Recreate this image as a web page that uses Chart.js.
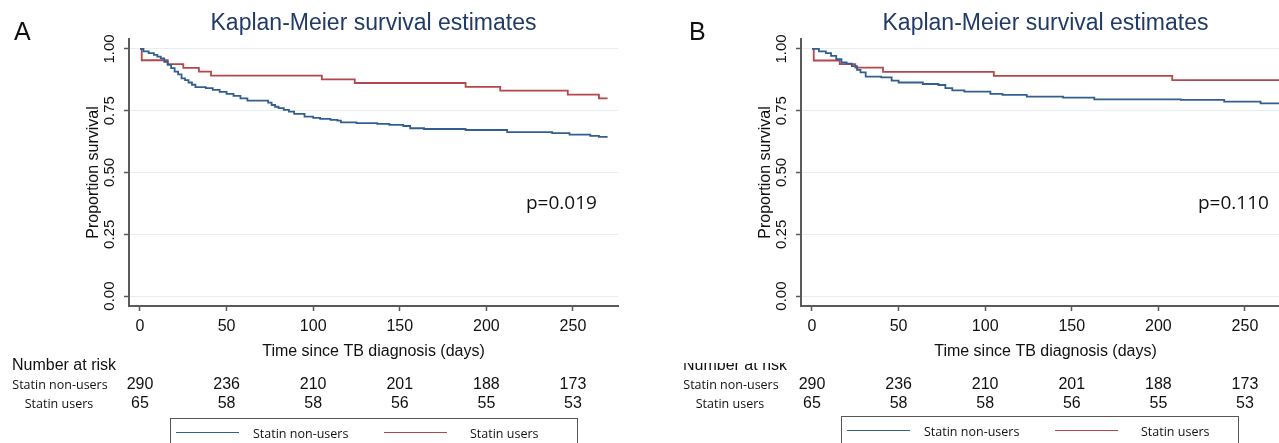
<!DOCTYPE html>
<html>
<head>
<meta charset="utf-8">
<script src="https://cdn.jsdelivr.net/npm/chart.js@4.4.1/dist/chart.umd.min.js"></script>
<style>
  body { margin:0; width:1279px; height:443px; overflow:hidden; background:#fff; position:relative; font-family:"Liberation Sans", Arial, sans-serif; color:#111; }
  .panel { position:absolute; top:0; width:640px; height:443px; }
  .panel canvas { position:absolute; left:0; top:0; }
  .letter { position:absolute; font-size:25px; line-height:1; }
  .pval { position:absolute; font-family:"Open Sans", sans-serif; font-size:19px; transform:translateY(-50%); white-space:nowrap; }
  .risk-title { position:absolute; font-size:16px; transform:translateY(-50%); white-space:nowrap; }
  .clip { position:absolute; overflow:hidden; }
  .risk-label { position:absolute; font-family:"Open Sans", sans-serif; font-size:12.5px; transform:translate(-50%,-50%); white-space:nowrap; }
  .risk-num { position:absolute; font-size:16px; transform:translate(-50%,-50%); white-space:nowrap; }
  .legend { position:absolute; height:40px; border:1px solid #555; background:#fff; box-sizing:border-box; }
  .legend .swatch { position:absolute; top:13px; width:63px; height:0; border-top:1.8px solid; }
  .legend .txt { position:absolute; top:14px; transform:translateY(-50%); font-family:"Open Sans", sans-serif; font-size:12.5px; white-space:nowrap; }
</style>
</head>
<body>
<script>
// Ejes
const xTicks = [0, 50, 100, 150, 200, 250];
const yTicks = [0, 0.25, 0.5, 0.75, 1];
const groupNames = ['Statin non-users', 'Statin users'];

// Panel A
const aNonUsersDays = [0, 2, 5, 8, 10, 12, 14, 16, 18, 20, 22, 24, 26, 28, 30, 32, 38, 42, 46, 50, 54, 58, 62, 74, 76, 78, 80, 83, 86, 89, 95, 100, 104, 110, 114, 116, 125, 137, 144, 152, 156, 164, 188, 212, 238, 248, 260, 265, 270];
const aNonUsersSurv = [1, 0.99, 0.983, 0.976, 0.969, 0.962, 0.948, 0.935, 0.922, 0.908, 0.897, 0.881, 0.874, 0.864, 0.855, 0.845, 0.841, 0.834, 0.826, 0.818, 0.81, 0.80, 0.791, 0.783, 0.773, 0.766, 0.76, 0.753, 0.746, 0.737, 0.726, 0.721, 0.717, 0.713, 0.71, 0.703, 0.70, 0.697, 0.693, 0.688, 0.679, 0.676, 0.672, 0.663, 0.659, 0.653, 0.648, 0.644, 0.644];
const aUsersDays = [0, 1, 16, 25, 34, 41, 105, 124, 188, 208, 247, 265, 270];
const aUsersSurv = [1, 0.954, 0.938, 0.923, 0.908, 0.892, 0.877, 0.862, 0.846, 0.831, 0.815, 0.80, 0.80];
const aRiskNonUsers = [290, 236, 210, 201, 188, 173];
const aRiskUsers = [65, 58, 58, 56, 55, 53];
const aPValue = 'p=0.019';

// Panel B
const bNonUsersDays = [0, 4, 8, 11, 14, 17, 20, 23, 26, 28, 31, 40, 46, 50, 64, 73, 77, 81, 88, 103, 110, 124, 145, 163, 213, 238, 259, 270];
const bNonUsersSurv = [1, 0.99, 0.983, 0.972, 0.958, 0.945, 0.94, 0.93, 0.915, 0.905, 0.888, 0.885, 0.872, 0.864, 0.858, 0.854, 0.841, 0.832, 0.827, 0.818, 0.814, 0.807, 0.803, 0.796, 0.794, 0.787, 0.78, 0.78];
const bUsersDays = [0, 1, 16, 25, 41, 105, 208, 270];
const bUsersSurv = [1, 0.953, 0.938, 0.924, 0.907, 0.891, 0.874, 0.874];
const bRiskNonUsers = [290, 236, 210, 201, 188, 173];
const bRiskUsers = [65, 58, 58, 56, 55, 53];
const bPValue = 'p=0.110';

const blue = '#335f90';
const red = '#b5474c';
const axisColor = '#5a5a5a';

Chart.defaults.font.family = '"Liberation Sans", Arial, sans-serif';
Chart.defaults.color = '#111';

function toPoints(days, surv) {
    return days.map((d, i) => ({ x: d, y: surv[i] }));
}

function addText(parent, cls, text, x, y) {
    const el = document.createElement('div');
    el.className = cls;
    el.textContent = text;
    el.style.left = x + 'px';
    el.style.top = y + 'px';
    parent.appendChild(el);
    return el;
}

function makePanel(p) {
    const panel = document.createElement('div');
    panel.className = 'panel';
    panel.style.left = p.left + 'px';
    document.body.appendChild(panel);

    const canvas = document.createElement('canvas');
    canvas.width = 640;
    canvas.height = 443;
    panel.appendChild(canvas);

    const lineStyle = { stepped: true, pointRadius: 0, borderWidth: 1.8, fill: false };
    const chart = new Chart(canvas, {
        type: 'line',
        data: {
            datasets: [
                { label: groupNames[0], data: toPoints(p.nonDays, p.nonSurv), borderColor: blue, ...lineStyle },
                { label: groupNames[1], data: toPoints(p.userDays, p.userSurv), borderColor: red, ...lineStyle }
            ]
        },
        options: {
            responsive: false,
            animation: false,
            layout: { padding: { left: 80, right: 22, top: 0, bottom: 82 } },
            plugins: {
                legend: { display: false },
                tooltip: { enabled: false },
                title: {
                    display: true,
                    text: 'Kaplan-Meier survival estimates',
                    color: '#223a68',
                    font: { size: 23, weight: 'normal' },
                    padding: { top: 10, bottom: 1.4 },
                    fullSize: false
                }
            },
            scales: {
                x: {
                    type: 'linear',
                    min: -6.35,
                    max: 276,
                    afterBuildTicks: s => { s.ticks = xTicks.map(v => ({ value: v })); },
                    afterFit: s => { s.height = 55; },
                    ticks: { font: { size: 16 }, color: '#111', padding: 6, maxRotation: 0 },
                    grid: { drawOnChartArea: false, tickLength: 5, tickColor: axisColor, tickWidth: 1.5 },
                    border: { color: axisColor, width: 2 },
                    title: { display: true, text: 'Time since TB diagnosis (days)', font: { size: 16 }, color: '#111', padding: { top: 0, bottom: 0 } }
                },
                y: {
                    min: -0.04,
                    max: 1.04,
                    afterBuildTicks: s => { s.ticks = yTicks.map(v => ({ value: v })); },
                    afterFit: s => { s.width = 49; },
                    ticks: {
                        font: { size: 15 }, color: '#111', padding: 0,
                        minRotation: 90, maxRotation: 90, crossAlign: 'center',
                        callback: v => v.toFixed(2)
                    },
                    grid: { color: '#e6eef1', lineWidth: 1, tickLength: 5, tickColor: axisColor, tickWidth: 1.5 },
                    border: { color: axisColor, width: 2 },
                    title: { display: true, text: 'Proportion survival', font: { size: 16 }, color: '#111', padding: { top: 4, bottom: 0 } }
                }
            }
        }
    });

    // Letra del panel y valor p
    addText(panel, 'letter', p.letter, p.letterX, 19);
    addText(panel, 'pval', p.pValue, 526, 202);

    // Tabla "Number at risk"
    const dx = p.tableShift;
    if (p.clipTitle) {
        const clip = document.createElement('div');
        clip.className = 'clip';
        clip.style.left = (12 + dx) + 'px';
        clip.style.top = '363px';
        clip.style.width = '120px';
        clip.style.height = '10px';
        panel.appendChild(clip);
        addText(clip, 'risk-title', 'Number at risk', 0, 2);
    } else {
        addText(panel, 'risk-title', 'Number at risk', 12 + dx, 365);
    }
    addText(panel, 'risk-label', groupNames[0], 60 + dx, 383.5);
    addText(panel, 'risk-label', groupNames[1], 59 + dx, 402.5);
    const xs = chart.scales.x;
    xTicks.forEach((t, i) => {
        const px = xs.getPixelForValue(t);
        addText(panel, 'risk-num', p.riskNon[i], px, 383.5);
        addText(panel, 'risk-num', p.riskUsers[i], px, 402.5);
    });

    // Leyenda
    const box = document.createElement('div');
    box.className = 'legend';
    box.style.left = (170 + dx) + 'px';
    box.style.top = p.legendTop + 'px';
    box.style.width = p.legendWidth + 'px';
    panel.appendChild(box);
    [[blue, groupNames[0], 5, 82], [red, groupNames[1], 213, 299]].forEach(([c, name, sx, tx]) => {
        const sw = document.createElement('div');
        sw.className = 'swatch';
        sw.style.left = sx + 'px';
        sw.style.borderTopColor = c;
        box.appendChild(sw);
        addText(box, 'txt', name, tx, 14);
    });
    return chart;
}

makePanel({
    left: 0, letter: 'A', letterX: 14, pValue: aPValue,
    nonDays: aNonUsersDays, nonSurv: aNonUsersSurv, userDays: aUsersDays, userSurv: aUsersSurv,
    riskNon: aRiskNonUsers, riskUsers: aRiskUsers,
    tableShift: 0, clipTitle: false, legendTop: 418, legendWidth: 408
});
makePanel({
    left: 672, letter: 'B', letterX: 17, pValue: bPValue,
    nonDays: bNonUsersDays, nonSurv: bNonUsersSurv, userDays: bUsersDays, userSurv: bUsersSurv,
    riskNon: bRiskNonUsers, riskUsers: bRiskUsers,
    tableShift: -1, clipTitle: true, legendTop: 416, legendWidth: 398
});
</script>
</body>
</html>
